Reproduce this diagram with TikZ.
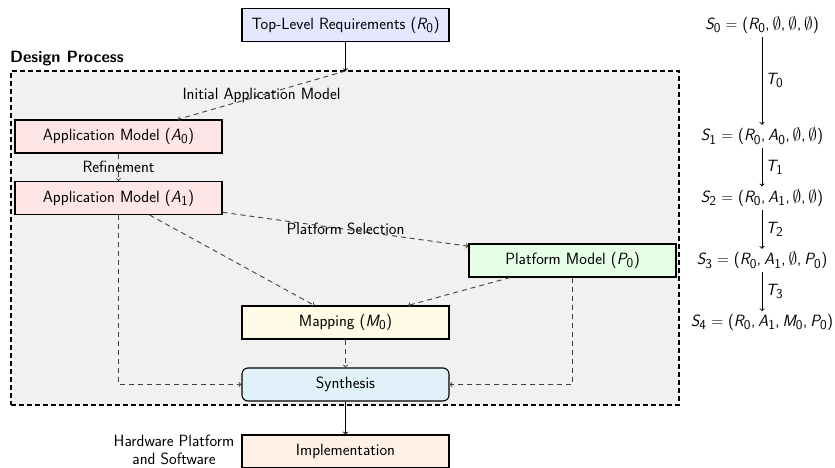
\documentclass[tikz,border=0pt]{standalone}
\usepackage{amsmath, amssymb}
\renewcommand{\familydefault}{\sfdefault}
\usepackage[italic]{mathastext}
\usepackage{tikz}
\usetikzlibrary{arrows.meta, positioning}
\definecolor{reqblue}{RGB}{230, 230, 255}
\definecolor{apppink}{RGB}{255, 230, 230}
\definecolor{platgreen}{RGB}{230, 255, 230}
\definecolor{mapyellow}{RGB}{255, 251, 230}
\definecolor{synthblue}{RGB}{225, 241, 250}
\definecolor{implorange}{RGB}{255, 240, 230}
\definecolor{framegray}{RGB}{241, 241, 241}
\newcommand{\diagfont}{\fontsize{16.3}{18}\selectfont}

\begin{document}
\begin{tikzpicture}[
    x=1pt, y=-1pt, >=to, font=\diagfont,
    block/.style={rectangle, draw=black, line width=1.1pt, minimum width=207pt, minimum height=33pt, inner sep=4pt, align=center},
    designframe/.style={rectangle, draw=black, line width=2pt, dash pattern=on 5pt off 3pt, fill=framegray, minimum width=668pt, minimum height=334pt, inner sep=0pt},
    flow/.style={draw=black!75, ->, line width=0.9pt, dash pattern=on 5pt off 4pt},
    solidflow/.style={draw, ->, line width=0.9pt, black},
    state/.style={inner sep=3pt}
  ]
    \useasboundingbox (0,0) rectangle (835,468);

    % design process frame
    \node (frame) [designframe] at (345,238) {};
    \node (framelabel) [anchor=south west, font=\diagfont\bfseries, inner sep=1pt] at ([xshift=-1pt,yshift=3pt]frame.north west) {Design Process};
    \coordinate (entry) at (345.5,71);

    \node (req) [block, fill=reqblue] at (345.5,25) {Top-Level Requirements ($R_0$)};
    \node (a0) [block, fill=apppink] at (118.5,136.5) {Application Model ($A_0$)};
    \node (a1) [block, fill=apppink] at (118.5,198) {Application Model ($A_1$)};
    \node (p0) [block, fill=platgreen] at (572.5,260.5) {Platform Model ($P_0$)};
    \node (m0) [block, fill=mapyellow] at (345.5,322.5) {Mapping ($M_0$)};
    \node (synth) [block, fill=synthblue, rounded corners=6pt] at (345.5,384.5) {Synthesis};
    \node (impl) [block, fill=implorange] at (345.5,451.5) {Implementation};
    \node (hw) [left=7pt of impl, align=center, inner sep=0pt, yshift=2pt] {Hardware Platform\\and Software};

    \draw[solidflow] (req) -- (entry);
    \draw[flow] (entry) -- node {Initial Application Model} (a0);
    \draw[flow] (a0) -- node {Refinement} (a1);
    \draw[flow] (a1) -- node {Platform Selection} (p0);
    \draw[flow] (a1) -- (m0);
    \draw[flow] (p0) -- (m0);
    \draw[flow] (m0) -- (synth);
    \draw[flow] (a1.south) |- (synth.west);
    \draw[flow] (p0.south) |- (synth.east);
    \draw[solidflow] (synth) -- (impl);

    % state sequence
    \node (s0) [state] at (762,25) {$S_0 = (R_0, \emptyset, \emptyset, \emptyset)$};
    \node (s1) [state] at (762,136.5) {$S_1 = (R_0, A_0, \emptyset, \emptyset)$};
    \node (s2) [state] at (762,198) {$S_2 = (R_0, A_1, \emptyset, \emptyset)$};
    \node (s3) [state] at (762,260.5) {$S_3 = (R_0, A_1, \emptyset, P_0)$};
    \node (s4) [state] at (762,322.5) {$S_4 = (R_0, A_1, M_0, P_0)$};

    \draw[solidflow] (s0) -- node[right] {$T_0$} (s1);
    \draw[solidflow] (s1) -- node[right] {$T_1$} (s2);
    \draw[solidflow] (s2) -- node[right] {$T_2$} (s3);
    \draw[solidflow] (s3) -- node[right] {$T_3$} (s4);
\end{tikzpicture}
\end{document}
